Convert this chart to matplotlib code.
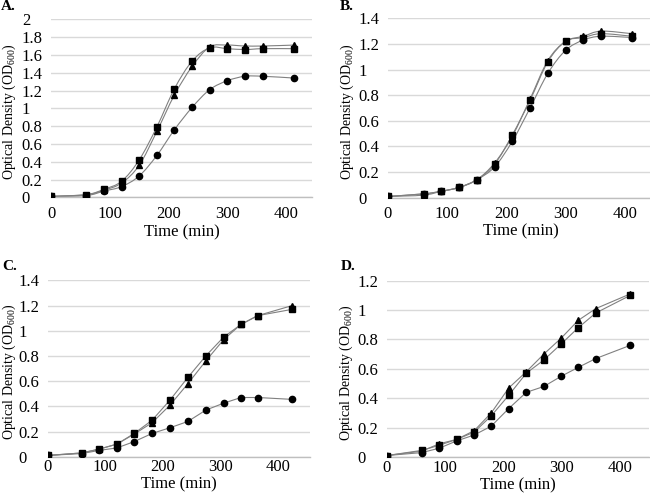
import numpy as np
import matplotlib.pyplot as plt
from matplotlib.path import Path
from matplotlib.patches import PathPatch

plt.rcParams['font.family'] = ['Liberation Serif', 'DejaVu Serif']
plt.rcParams['mathtext.fontset'] = 'custom'
plt.rcParams['mathtext.rm'] = 'Liberation Serif'

# Panel A
time_a = [0, 60, 90, 120, 150, 180, 210, 240, 270, 300, 330, 360, 413]
sq_a = [0.01, 0.03, 0.09, 0.18, 0.42, 0.79, 1.22, 1.53, 1.68, 1.67, 1.66, 1.67, 1.67]
tri_a = [0.01, 0.03, 0.08, 0.16, 0.36, 0.74, 1.15, 1.47, 1.69, 1.71, 1.70, 1.70, 1.71]
cir_a = [0.01, 0.02, 0.07, 0.12, 0.24, 0.47, 0.76, 1.01, 1.21, 1.31, 1.36, 1.36, 1.34]

# Panel B
time_b = [0, 60, 90, 120, 150, 180, 210, 240, 270, 300, 330, 360, 412]
sq_b = [0.01, 0.03, 0.05, 0.08, 0.14, 0.26, 0.49, 0.76, 1.06, 1.22, 1.25, 1.28, 1.26]
tri_b = [0.01, 0.02, 0.05, 0.08, 0.14, 0.27, 0.48, 0.77, 1.07, 1.22, 1.26, 1.30, 1.28]
cir_b = [0.01, 0.03, 0.05, 0.08, 0.14, 0.24, 0.44, 0.70, 0.97, 1.15, 1.23, 1.26, 1.25]

# Panel C
time_c = [0, 59, 89, 120, 150, 181, 212, 243, 274, 305, 335, 364, 424]
sq_c = [0.01, 0.03, 0.06, 0.10, 0.185, 0.29, 0.45, 0.63, 0.80, 0.95, 1.05, 1.12, 1.17]
tri_c = [0.01, 0.03, 0.06, 0.10, 0.18, 0.27, 0.41, 0.58, 0.76, 0.93, 1.05, 1.12, 1.20]
cir_c = [0.01, 0.025, 0.05, 0.07, 0.12, 0.185, 0.23, 0.28, 0.37, 0.425, 0.47, 0.47, 0.455]

# Panel D
time_d = [0, 60, 90, 120, 150, 179, 209, 239, 269, 299, 328, 358, 417]
sq_d = [0.01, 0.045, 0.08, 0.12, 0.17, 0.28, 0.42, 0.57, 0.66, 0.77, 0.88, 0.98, 1.10]
tri_d = [0.01, 0.04, 0.09, 0.12, 0.18, 0.30, 0.47, 0.58, 0.70, 0.81, 0.93, 1.01, 1.11]
cir_d = [0.01, 0.03, 0.06, 0.11, 0.15, 0.21, 0.33, 0.44, 0.48, 0.55, 0.61, 0.67, 0.76]

line_color = '#808080'
grid_color = '#d9d9d9'


def smooth_line(ax, x, y):
    # excel style smoothed line, drawn as cubic bezier segments
    pts = np.column_stack([x, y]).astype(float)
    n = len(pts)
    verts = [pts[0]]
    codes = [Path.MOVETO]
    for i in range(n - 1):
        p0 = pts[max(i - 1, 0)]
        p1 = pts[i]
        p2 = pts[i + 1]
        p3 = pts[min(i + 2, n - 1)]
        c1 = p1 + (p2 - p0) / 6.0
        c2 = p2 - (p3 - p1) / 6.0
        verts += [c1, c2, p2]
        codes += [Path.CURVE4] * 3
    ax.add_patch(PathPatch(Path(verts, codes), facecolor='none',
                           edgecolor=line_color, lw=0.8, zorder=2))


def panel(rect, t, sq, tri, cir, ymax, xmax, letter, letter_pos, ylab_x,
          smooth, xpad, xlabpad):
    ax = fig.add_axes(rect)
    for ys in [cir, tri, sq]:
        if smooth:
            smooth_line(ax, t, ys)
        else:
            ax.plot(t, ys, color=line_color, lw=0.8, zorder=2)
    ax.plot(t, cir, 'o', color='black', ms=4.5, zorder=3)
    ax.plot(t, tri, '^', color='black', ms=5, zorder=3)
    ax.plot(t, sq, 's', color='black', ms=4.5, zorder=3)

    ax.set_xlim(0, xmax)
    ax.set_ylim(0, ymax)
    ax.set_xticks([0, 100, 200, 300, 400])
    yt = np.round(np.arange(0, ymax + 0.01, 0.2), 1)
    ax.set_yticks(yt)
    ax.set_yticklabels(['%g' % v for v in yt])
    for lab in ax.get_yticklabels():
        lab.set_horizontalalignment('left')
    ax.tick_params(axis='y', length=0, pad=21, labelsize=12)
    ax.tick_params(axis='x', length=0, pad=xpad, labelsize=12)
    ax.grid(axis='y', color=grid_color, lw=1.0)
    ax.set_axisbelow(True)
    for s in ['top', 'right', 'left']:
        ax.spines[s].set_visible(False)
    ax.spines['bottom'].set_color('#bfbfbf')
    ax.spines['bottom'].set_linewidth(1.0)
    ax.set_xlabel('Time (min)', fontsize=12, labelpad=xlabpad)
    ax.set_ylabel(r'Optical Density (OD$_{\mathregular{600}}$)', fontsize=10)
    ax.yaxis.set_label_coords(ylab_x, 0.48)
    fig.text(letter_pos[0], letter_pos[1], letter, fontsize=11, fontweight='bold',
             ha='left', va='top')
    return ax


fig = plt.figure(figsize=(6.5, 4.96), dpi=100)

panel([0.0785, 0.6022, 0.4015, 0.3589], time_a, sq_a, tri_a, cir_a, 2.0, 444,
      'A.', (0.002, 1.0), -0.127, True, 6, 2)
panel([0.5969, 0.6014, 0.4098, 0.3617], time_b, sq_b, tri_b, cir_b, 1.4, 450,
      'B.', (0.523, 1.0), -0.12, True, 6, 1)
panel([0.0734, 0.0792, 0.4030, 0.3556], time_c, sq_c, tri_c, cir_c, 1.4, 454,
      'C.', (0.003, 0.475), -0.115, False, 2, 1)
panel([0.5949, 0.0786, 0.4043, 0.3555], time_d, sq_d, tri_d, cir_d, 1.2, 450,
      'D.', (0.525, 0.475), -0.12, False, 2, 1)

fig.savefig('out.png', dpi=100)
